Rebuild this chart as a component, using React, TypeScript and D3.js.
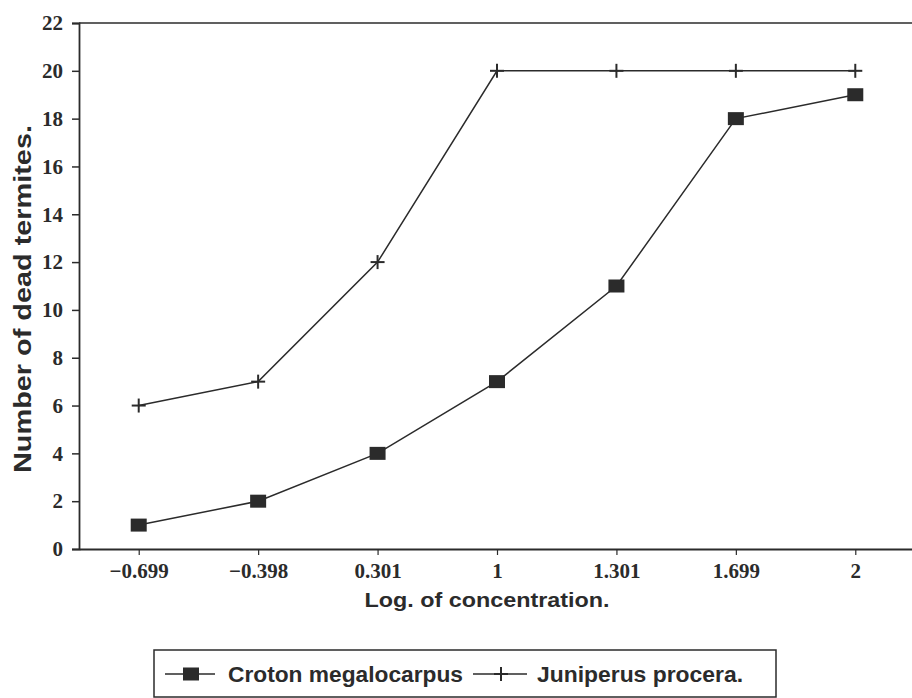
import React, { useRef, useEffect } from "react";
import * as d3 from "d3";

const concentrations = ["-0.699", "-0.398", "0.301", "1", "1.301", "1.699", "2"];
const crotonDead = [1, 2, 4, 7, 11, 18, 19];
const juniperusDead = [6, 7, 12, 20, 20, 20, 20];
const yTicks = [0, 2, 4, 6, 8, 10, 12, 14, 16, 18, 20, 22];

function App() {
  const svgRef = useRef<SVGSVGElement>(null);

  useEffect(() => {
    const svg = d3.select(svgRef.current);
    svg.selectAll("*").remove();

    // ---- dimensions ----//
    const width = 912;
    const height = 698;
    const margin = { top: 23, right: -3, bottom: 149, left: 79 };
    const boundedWidth = width - margin.left - margin.right;
    const boundedHeight = height - margin.top - margin.bottom;
    const ink = "#2b2b2b";
    const tickFont = "'Liberation Serif', serif";
    const labelFont = "'Liberation Sans', sans-serif";

    const bounds = svg
      .append("g")
      .attr("transform", `translate(${margin.left},${margin.top})`);

    // ---- scales ----//
    const xScale = d3
      .scalePoint()
      .domain(concentrations)
      .range([0, boundedWidth])
      .padding(0.5);

    const yScale = d3.scaleLinear().domain([0, 22]).range([boundedHeight, 0]);

    // ---- frame ----//
    bounds
      .append("line")
      .attr("x1", 0)
      .attr("x2", width)
      .attr("y1", 0)
      .attr("y2", 0)
      .attr("stroke", ink)
      .attr("stroke-width", 1.6);

    const yAxis = bounds
      .append("g")
      .call(d3.axisLeft(yScale).tickValues(yTicks).tickSize(7).tickPadding(9));
    yAxis.select(".domain").attr("stroke", ink).attr("stroke-width", 1.8);
    yAxis.selectAll(".tick line").attr("stroke", ink).attr("stroke-width", 1.5);
    yAxis
      .selectAll(".tick text")
      .attr("fill", ink)
      .style("font-family", tickFont)
      .style("font-weight", "bold")
      .style("font-size", "21px");

    const xAxis = bounds
      .append("g")
      .attr("transform", `translate(0,${boundedHeight})`)
      .call(d3.axisBottom(xScale).tickSize(6).tickSizeOuter(0));
    xAxis.select(".domain").attr("stroke", ink).attr("stroke-width", 1.8);
    xAxis.selectAll(".tick line").attr("stroke", ink).attr("stroke-width", 1.2);
    xAxis
      .selectAll(".tick text")
      .attr("y", 29)
      .attr("dy", null)
      .attr("fill", ink)
      .style("font-family", tickFont)
      .style("font-weight", "bold")
      .style("font-size", "21px")
      .text((d: any) => d.replace("-", "\u2212"));

    // ---- axis titles ----//
    svg
      .append("text")
      .attr("x", 487)
      .attr("y", 607)
      .attr("text-anchor", "middle")
      .attr("fill", ink)
      .attr("textLength", 245)
      .attr("lengthAdjust", "spacingAndGlyphs")
      .style("font-family", labelFont)
      .style("font-weight", "bold")
      .style("font-size", "21px")
      .text("Log. of concentration.");

    svg
      .append("text")
      .attr("transform", "translate(31,299) rotate(-90)")
      .attr("text-anchor", "middle")
      .attr("fill", ink)
      .attr("textLength", 348)
      .attr("lengthAdjust", "spacingAndGlyphs")
      .style("font-family", labelFont)
      .style("font-weight", "bold")
      .style("font-size", "23px")
      .text("Number of dead termites.");

    // ---- data ----//
    const lineGen = (values: number[]) =>
      d3
        .line<number>()
        .x((d, i) => xScale(concentrations[i]) as number)
        .y((d) => yScale(d))(values);

    bounds
      .append("path")
      .attr("d", lineGen(juniperusDead))
      .attr("fill", "none")
      .attr("stroke", ink)
      .attr("stroke-width", 1.5);

    bounds
      .append("path")
      .attr("d", lineGen(crotonDead))
      .attr("fill", "none")
      .attr("stroke", ink)
      .attr("stroke-width", 1.5);

    const drawPlus = (g: any, cx: number, cy: number) => {
      g.append("line")
        .attr("x1", cx - 7).attr("x2", cx + 7)
        .attr("y1", cy).attr("y2", cy)
        .attr("stroke", ink).attr("stroke-width", 2);
      g.append("line")
        .attr("x1", cx).attr("x2", cx)
        .attr("y1", cy - 7).attr("y2", cy + 7)
        .attr("stroke", ink).attr("stroke-width", 2);
    };
    const drawSquare = (g: any, cx: number, cy: number) => {
      g.append("rect")
        .attr("x", cx - 8)
        .attr("y", cy - 6.5)
        .attr("width", 16)
        .attr("height", 13)
        .attr("fill", ink);
    };

    juniperusDead.forEach((d, i) =>
      drawPlus(bounds, xScale(concentrations[i]) as number, yScale(d))
    );
    crotonDead.forEach((d, i) =>
      drawSquare(bounds, xScale(concentrations[i]) as number, yScale(d))
    );

    // ---- legend ----//
    const legend = svg.append("g");
    legend
      .append("rect")
      .attr("x", 154)
      .attr("y", 650)
      .attr("width", 622)
      .attr("height", 47)
      .attr("fill", "none")
      .attr("stroke", ink)
      .attr("stroke-width", 1.5);

    const ly = 674;
    legend.append("line")
      .attr("x1", 165).attr("x2", 215).attr("y1", ly).attr("y2", ly)
      .attr("stroke", ink).attr("stroke-width", 1.5);
    drawSquare(legend, 191, ly);
    legend
      .append("text")
      .attr("x", 228)
      .attr("y", 682)
      .attr("fill", ink)
      .attr("textLength", 235)
      .attr("lengthAdjust", "spacingAndGlyphs")
      .style("font-family", labelFont)
      .style("font-weight", "bold")
      .style("font-size", "22px")
      .text("Croton megalocarpus");

    legend.append("line")
      .attr("x1", 473).attr("x2", 527).attr("y1", ly).attr("y2", ly)
      .attr("stroke", ink).attr("stroke-width", 1.5);
    drawPlus(legend, 501, ly);
    legend
      .append("text")
      .attr("x", 537)
      .attr("y", 682)
      .attr("fill", ink)
      .attr("textLength", 206)
      .attr("lengthAdjust", "spacingAndGlyphs")
      .style("font-family", labelFont)
      .style("font-weight", "bold")
      .style("font-size", "22px")
      .text("Juniperus procera.");
  }, []);

  return (
    <svg
      ref={svgRef}
      width={912}
      height={698}
      style={{ position: "absolute", left: 0, top: 0, background: "#fff" }}
    />
  );
}

export default App;
